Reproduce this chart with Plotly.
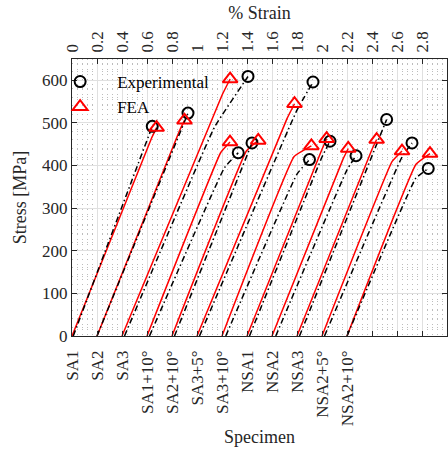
import plotly.graph_objects as go

# Specimen names, in the order their curves are staggered along the strain axis
specimens = ["SA1", "SA2", "SA3", "SA1+10°", "SA2+10°", "SA3+5°", "SA3+10°",
             "NSA1", "NSA2", "NSA3", "NSA2+5°", "NSA2+10°"]
spacing = 0.2  # % strain shift between neighbouring specimen curves

# FEA stress-strain curves (strain in %, relative to each curve's own origin)
fea_strain = [
    [0, 0.636, 0.677], [0, 0.659, 0.700], [0, 0.800, 0.865], [0, 0.589, 0.664],
    [0, 0.595, 0.690], [0, 0.720, 0.780], [0, 0.577, 0.715], [0, 0.600, 0.637],
    [0, 0.568, 0.610], [0, 0.597, 0.637], [0, 0.560, 0.640], [0, 0.552, 0.664],
]
fea_stress = [
    [0, 464, 489], [0, 481, 506], [0, 565, 603], [0, 430, 455],
    [0, 434, 459], [0, 510, 545], [0, 421, 446], [0, 438, 463],
    [0, 415, 440], [0, 436, 461], [0, 409, 434], [0, 403, 428],
]

# Experimental stress-strain curves (same convention)
exp_strain = [
    [0.01, 0.642], [0.0, 0.728], [0.02, 0.74, 1.008], [0.02, 0.62, 0.73],
    [0.02, 0.640], [0.02, 0.80, 0.928], [0.03, 0.60, 0.70], [0.02, 0.60, 0.664],
    [0.03, 0.60, 0.672], [0.02, 0.717], [0.02, 0.64, 0.72], [0.0, 0.55, 0.65],
]
exp_stress = [
    [0, 492], [0, 523], [0, 490, 609], [0, 395, 430],
    [0, 453], [0, 530, 596], [0, 380, 414], [0, 420, 457],
    [0, 390, 423], [0, 508], [0, 420, 453], [0, 370, 393],
]

strain_ticks = [0, 0.2, 0.4, 0.6, 0.8, 1, 1.2, 1.4, 1.6, 1.8, 2, 2.2, 2.4, 2.6, 2.8, 3]
strain_tick_text = ["0", "0.2", "0.4", "0.6", "0.8", "1", "1.2", "1.4", "1.6", "1.8",
                    "2", "2.2", "2.4", "2.6", "2.8", "3"]
stress_ticks = [0, 100, 200, 300, 400, 500, 600]

FONT = "'Liberation Serif', 'Times New Roman', serif"
AX = "#262626"
offsets = [i * spacing for i in range(len(specimens))]

fig = go.Figure()

for i, name in enumerate(specimens):
    fig.add_trace(go.Scatter(
        x=[s + offsets[i] for s in fea_strain[i]], y=fea_stress[i],
        mode="lines", line=dict(color="#ff0000", width=1.5, shape="spline", smoothing=0.3),
        showlegend=False, hoverinfo="skip"))
    fig.add_trace(go.Scatter(
        x=[s + offsets[i] for s in exp_strain[i]], y=exp_stress[i],
        mode="lines",
        line=dict(color="#000000", width=1.5, dash="6px,3px,1.5px,3px",
                  shape="spline", smoothing=0.3),
        showlegend=False, hoverinfo="skip"))

# end-of-test / end-of-analysis markers (on the specimen axis, same 0-3 range)
fig.add_trace(go.Scatter(
    x=[exp_strain[i][-1] + offsets[i] for i in range(len(specimens))],
    y=[exp_stress[i][-1] for i in range(len(specimens))],
    xaxis="x2", yaxis="y",
    mode="markers", name="Experimental",
    marker=dict(symbol="circle-open", size=11, color="#000000", line=dict(width=2))))
fig.add_trace(go.Scatter(
    x=[fea_strain[i][-1] + offsets[i] for i in range(len(specimens))],
    y=[fea_stress[i][-1] for i in range(len(specimens))],
    xaxis="x2", yaxis="y",
    mode="markers", name="FEA",
    marker=dict(symbol="triangle-up-open", size=13, color="#ff0000", line=dict(width=2))))

tick_font = dict(family=FONT, size=17, color=AX)
title_font = dict(family=FONT, size=18, color=AX)

fig.update_layout(
    width=448, height=450,
    margin=dict(l=72, r=1, t=59, b=114),
    paper_bgcolor="white", plot_bgcolor="white",
    font=dict(family=FONT, size=17, color=AX),
    showlegend=True,
    legend=dict(x=-0.077, xanchor="left", y=0.982, yanchor="top",
                bgcolor="rgba(0,0,0,0)", borderwidth=0, itemwidth=64,
                font=dict(family=FONT, size=17, color="#000000"),
                tracegroupgap=0),
    xaxis=dict(
        side="top", range=[0, 3], tickmode="array",
        tickvals=strain_ticks, ticktext=strain_tick_text, tickangle=-90,
        ticks="inside", ticklen=5, tickcolor=AX, tickwidth=1,
        showline=True, linecolor=AX, linewidth=1, mirror="ticks",
        showgrid=True, gridcolor="#e0e0e0", gridwidth=1, zeroline=False,
        minor=dict(dtick=0.04, tick0=0, showgrid=True, gridcolor="#bdbdbd",
                   griddash="1px,4px", gridwidth=1, ticks=""),
        title=dict(text="% Strain", font=title_font, standoff=6),
        tickfont=tick_font, ticklabelstandoff=2,
    ),
    xaxis2=dict(
        overlaying="x", side="bottom", anchor="y", range=[0, 3],
        tickmode="array", tickvals=offsets, ticktext=specimens, tickangle=-90,
        ticks="", showgrid=False, showline=False, zeroline=False,
        title=dict(text="Specimen", font=title_font, standoff=5),
        tickfont=tick_font, ticklabelstandoff=10,
    ),
    yaxis=dict(
        range=[0, 650], tickmode="array", tickvals=stress_ticks,
        ticks="inside", ticklen=5, tickcolor=AX, tickwidth=1,
        showline=True, linecolor=AX, linewidth=1, mirror="ticks",
        showgrid=True, gridcolor="#e0e0e0", gridwidth=1, zeroline=False,
        minor=dict(dtick=20, tick0=0, showgrid=True, gridcolor="#bdbdbd",
                   griddash="1px,4px", gridwidth=1, ticks=""),
        title=dict(text="Stress [MPa]", font=title_font, standoff=10),
        tickfont=tick_font,
    ),
)

fig.write_html("out.html")
